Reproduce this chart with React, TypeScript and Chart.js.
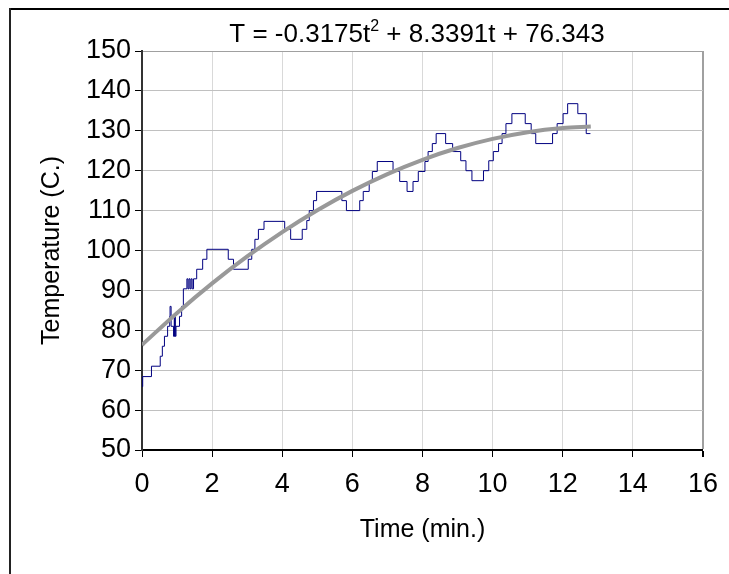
import React, { useEffect, useRef } from 'react';
import { Chart, registerables } from 'chart.js';

Chart.register(...registerables);

// Measured step readings: time (min) at which each temperature level starts
const stepTimes = [
  0.0, 0.02, 0.27, 0.52, 0.58, 0.64, 0.73, 0.79, 0.8, 0.83, 0.9, 0.92, 0.93, 0.94, 0.95, 0.97,
  1.07, 1.13, 1.18, 1.28, 1.31, 1.34, 1.37, 1.4, 1.43, 1.47, 1.56, 1.73, 1.85,
  2.46, 2.61, 3.03, 3.13, 3.22, 3.32, 3.48, 4.07, 4.24, 4.57, 4.7, 4.77, 4.89, 4.98,
  5.7, 5.83, 6.21, 6.31, 6.48, 6.57, 6.71, 7.16, 7.35, 7.56, 7.73, 7.88,
  8.07, 8.16, 8.28, 8.39, 8.66, 8.86, 9.09, 9.24, 9.41, 9.74, 9.89,
  10.02, 10.17, 10.27, 10.38, 10.55, 10.93, 11.1, 11.23, 11.71, 11.84,
  12.01, 12.14, 12.43, 12.67, 12.79,
];
const stepTemps = [
  65.9, 68.4, 71.0, 73.5, 76.0, 78.5, 81.0, 83.5, 86.0, 81.0, 78.5, 83.5, 78.5, 83.5, 78.5, 81.0,
  83.5, 86.0, 90.4, 92.9, 90.4, 92.9, 90.4, 92.9, 90.4, 92.9, 95.3, 97.8, 100.3,
  97.8, 95.3, 97.8, 100.3, 102.8, 105.3, 107.3, 105.3, 102.8, 105.3, 107.5, 110.0, 112.5, 114.8,
  112.5, 110.0, 112.5, 114.8, 117.3, 119.8, 122.3, 119.8, 117.3, 114.8, 117.3, 119.8,
  122.3, 124.8, 126.8, 129.3, 126.8, 124.8, 122.5, 120.0, 117.5, 120.0, 122.5,
  124.8, 126.8, 129.3, 131.8, 134.3, 131.8, 129.3, 126.8, 129.3, 131.8,
  134.3, 136.8, 134.3, 129.3, 129.3,
];

// Trend line readings
const trendTimes = [0, 1, 2, 3, 4, 5, 6, 7, 8, 9, 10, 11, 12, 12.8];
const trendTemps = [76.34, 84.36, 91.75, 98.5, 104.62, 110.1, 114.95, 119.16, 122.74, 125.68, 127.98, 129.66, 130.69, 131.06];

const titleMain = 'T = -0.3175t';
const titleSup = '2';
const titleRest = ' + 8.3391t + 76.343';
const xTitle = 'Time (min.)';
const yTitle = 'Temperature (C.)';

const FONT = "'Liberation Sans', Arial, sans-serif";

const titlePlugin = {
  id: 'eqTitle',
  afterDraw(chart: any) {
    const ctx = chart.ctx;
    ctx.save();
    const big = `26px ${FONT}`;
    const small = `16px ${FONT}`;
    ctx.font = big;
    const w1 = ctx.measureText(titleMain).width;
    const w3 = ctx.measureText(titleRest).width;
    ctx.font = small;
    const w2 = ctx.measureText(titleSup).width;
    let x = 409 - (w1 + w2 + w3) / 2;
    const y = 34;
    ctx.fillStyle = '#000';
    ctx.textAlign = 'left';
    ctx.textBaseline = 'alphabetic';
    ctx.font = big;
    ctx.fillText(titleMain, x, y);
    x += w1;
    ctx.font = small;
    ctx.fillText(titleSup, x, y - 11);
    x += w2;
    ctx.font = big;
    ctx.fillText(titleRest, x, y);
    ctx.restore();
  },
};

export default function App() {
  const ref = useRef<HTMLCanvasElement | null>(null);
  useEffect(() => {
    if (!ref.current) return;
    const steps = stepTimes.map((t, i) => ({ x: t, y: stepTemps[i] }));
    const trend = trendTimes.map((t, i) => ({ x: t, y: trendTemps[i] }));
    const chart = new Chart(ref.current, {
      type: 'line',
      data: {
        datasets: [
          {
            data: trend,
            borderColor: '#999999',
            borderWidth: 4,
            pointRadius: 0,
            cubicInterpolationMode: 'monotone',
            fill: false,
          },
          {
            data: steps,
            borderColor: '#000080',
            borderWidth: 1,
            pointRadius: 0,
            stepped: true,
            fill: false,
          },
        ],
      },
      options: {
        animation: false,
        responsive: false,
        devicePixelRatio: 1,
        parsing: false,
        layout: { padding: { left: 0, right: 24, top: 43, bottom: 0 } },
        plugins: { legend: { display: false }, tooltip: { enabled: false }, title: { display: false } },
        scales: {
          x: {
            type: 'linear',
            min: 0,
            max: 16,
            ticks: { stepSize: 2, color: '#000', font: { family: FONT, size: 27 }, padding: 11, maxRotation: 0 },
            grid: {
              color: (c: any) => (c.tick && c.tick.value === 16 ? '#a0a0a0' : '#d9d9d9'),
              lineWidth: (c: any) => (c.tick && c.tick.value === 16 ? 2 : 1),
              tickLength: 7,
              tickColor: '#000',
            },
            border: { color: '#000', width: 2 },
            title: { display: true, text: xTitle, color: '#000', font: { family: FONT, size: 25 }, padding: { top: 0, bottom: 29 } },
            afterFit: (s: any) => { s.height = 124; },
          },
          y: {
            type: 'linear',
            min: 50,
            max: 150,
            ticks: { stepSize: 10, color: '#000', font: { family: FONT, size: 27 }, padding: 4 },
            grid: {
              color: (c: any) => (c.tick && c.tick.value === 150 ? '#a0a0a0' : '#c0c0c0'),
              lineWidth: 1,
              tickLength: 7,
              tickColor: '#000',
            },
            border: { color: '#333', width: 2 },
            title: { display: true, text: yTitle, color: '#000', font: { family: FONT, size: 25 }, padding: { top: 29, bottom: 0 } },
            afterFit: (s: any) => { s.width = 134; },
          },
        },
      },
      plugins: [titlePlugin],
    } as any);
    return () => chart.destroy();
  }, []);
  return (
    <div style={{ position: 'fixed', left: 0, top: 0, width: 729, height: 574, overflow: 'hidden', background: '#fff' }}>
      <div style={{ position: 'absolute', left: 9, top: 8, width: 720, height: 2, background: '#000' }} />
      <div style={{ position: 'absolute', left: 9, top: 8, width: 2, height: 566, background: '#222' }} />
      <canvas ref={ref} width={721} height={566} style={{ position: 'absolute', left: 8, top: 8, width: 721, height: 566 }} />
    </div>
  );
}
